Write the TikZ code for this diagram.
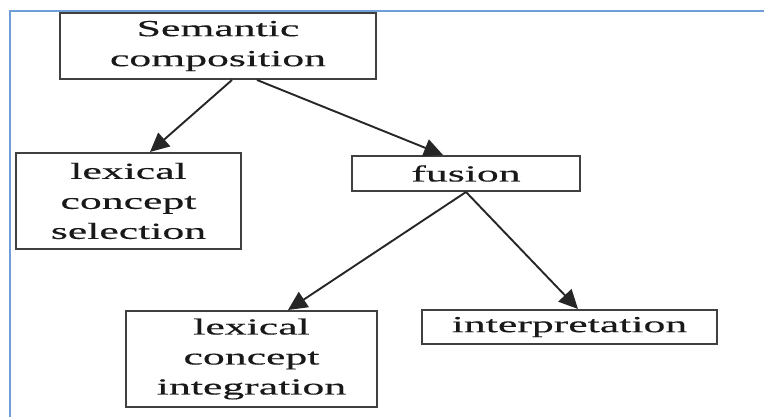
\documentclass[tikz,border=0pt]{standalone}
\usepackage{fontspec}
\setmainfont{Liberation Serif}[FakeStretch=1.9, FakeBold=0.4]
\usetikzlibrary{arrows.meta}
\definecolor{pageblue}{RGB}{110,160,215}
\tikzset{
	box/.style={draw=black!75, line width=2pt, inner sep=0pt, align=center, text=black!90,
		font=\fontsize{23}{30}\selectfont},
	link/.style={line width=1.9pt, color=black!85, -{Triangle[length=19pt,width=18pt]}}
}

\begin{document}
\begin{tikzpicture}[x=1pt, y=-1pt]
		%%%%% START %%%%%
		\useasboundingbox (0, 0) rectangle (764, 417);
		\fill[white] (0, 0) rectangle (764, 417);
		
		\draw[line width=2pt, color=pageblue] (10, 417) -- (10, 11) -- (764, 11);
		
		\node[box, minimum width=316pt, minimum height=66pt] (sem) at (218, 46) {Semantic\\composition};
		\node[box, minimum width=225pt, minimum height=96pt] (sel) at (128.5, 201) {lexical\\concept\\selection};
		\node[box, minimum width=228pt, minimum height=35pt] (fus) at (466, 173.5) {fusion};
		\node[box, minimum width=251pt, minimum height=96pt] (int) at (251.5, 359) {lexical\\concept\\integration};
		\node[box, minimum width=295pt, minimum height=34pt] (interp) at (569.5, 327) {interpretation};
		
		\draw[link] ([xshift=14pt]sem.south) -- ([xshift=21.5pt]sel.north);
		\draw[link] ([xshift=39pt]sem.south) -- ([xshift=-23pt]fus.north);
		
		\draw[link] (fus.south) -- ([xshift=36.5pt]int.north);
		\draw[link] (fus.south) -- ([xshift=8.5pt]interp.north);
		%%%%% END %%%%%
	\end{tikzpicture}
\end{document}
